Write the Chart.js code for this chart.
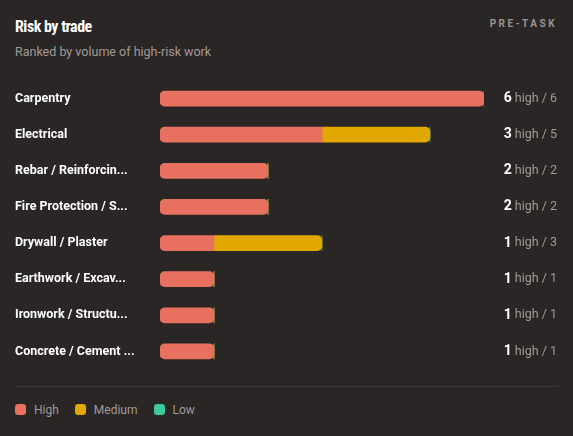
<!DOCTYPE html><html><head><meta charset="utf-8">
<script src="https://cdn.jsdelivr.net/npm/chart.js@4"></script>
<style>
body{margin:0;background:#2a2625;width:573px;height:436px;overflow:hidden;font-family:Roboto,sans-serif;position:relative}
#t{position:absolute;left:15px;top:17px;color:#fff;font-weight:700;font-size:16px;letter-spacing:-0.5px;font-family:"Roboto Condensed","DejaVu Sans Condensed",Roboto,sans-serif}
#s{position:absolute;left:15px;top:44px;color:#a09a97;font-size:12.5px}
#p{position:absolute;right:16px;top:18px;color:#9a9491;font-size:10px;font-weight:700;letter-spacing:2.5px}
#c{position:absolute;left:0;top:73px;width:573px;height:304px}
#hr{position:absolute;left:15px;right:15px;top:386px;height:1px;background:#3d3837}
#lg{position:absolute;left:15px;top:403px;color:#a09a97;font-size:12px;display:flex;gap:16px}
#lg span i{display:inline-block;width:11px;height:11px;border-radius:3px;margin-right:8px;vertical-align:-1px}
</style></head><body>
<div id="t">Risk by trade</div><div id="s">Ranked by volume of high-risk work</div><div id="p">PRE-TASK</div>
<div id="c"><canvas id="cv"></canvas></div><div id="hr"></div>
<div id="lg"><span><i style="background:#e8705f"></i>High</span><span><i style="background:#e0a800"></i>Medium</span><span><i style="background:#3cc9a0"></i>Low</span></div>
<script>
const categories=["Carpentry","Electrical","Rebar / Reinforcin...","Fire Protection / S...","Drywall / Plaster","Earthwork / Excav...","Ironwork / Structu...","Concrete / Cement ..."];
const high=[6,3,2,2,1,1,1,1];
const medium=[0,2,0,0,2,0,0,0];
const low=[0,0,0,0,0,0,0,0];
const R=5;
const rad=(ds)=>ctx=>{const i=ctx.dataIndex;const segs=[high[i],medium[i],low[i]];const k=ds;const first=segs.findIndex(v=>v>0);let last=-1;segs.forEach((v,j)=>{if(v>0)last=j});
return {topLeft:k===first?R:0,bottomLeft:k===first?R:0,topRight:k===last?R:0,bottomRight:k===last?R:0};};
const valPlugin={id:'v',afterDatasetsDraw(ch){const c=ch.ctx;const ys=ch.scales.y;c.save();c.textBaseline='middle';
categories.forEach((_,i)=>{const y=ys.getPixelForValue(i);const tot=high[i]+medium[i]+low[i];
c.font='12.5px Roboto';c.fillStyle='#a09a97';c.textAlign='right';const rest=' high / '+tot;c.fillText(rest,557,y);
const w=c.measureText(rest).width;c.font='bold 14px Roboto';c.fillStyle='#fff';c.fillText(String(high[i]),557-w,y);});c.restore();}};
new Chart(document.getElementById('cv'),{type:'bar',
data:{labels:categories,datasets:[
{label:'High',data:high,backgroundColor:'#e8705f',borderRadius:rad(0),borderSkipped:false},
{label:'Medium',data:medium,backgroundColor:'#e0a800',borderRadius:rad(1),borderSkipped:false},
{label:'Low',data:low,backgroundColor:'#3cc9a0',borderRadius:rad(2),borderSkipped:false}]},
options:{indexAxis:'y',responsive:true,maintainAspectRatio:false,animation:false,
layout:{padding:{left:15,right:89,top:0,bottom:0}},
datasets:{bar:{barThickness:15}},
plugins:{legend:{display:false},tooltip:{enabled:false}},
scales:{x:{stacked:true,min:0,max:6,display:false},
y:{stacked:true,grid:{display:false},border:{display:false},afterFit(s){s.width=145},
ticks:{crossAlign:'far',color:'#fff',padding:0,font:{family:'Roboto',weight:'bold',size:12.5}}}}},
plugins:[valPlugin]});
</script></body></html>
